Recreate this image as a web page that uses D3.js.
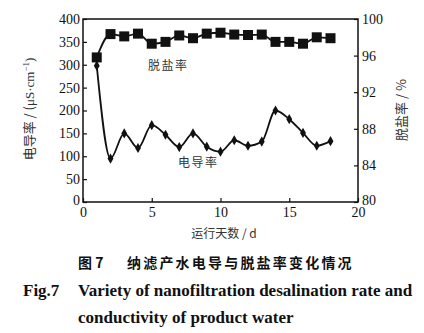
<!DOCTYPE html>
<html>
<head>
<meta charset="utf-8">
<script src="https://cdn.jsdelivr.net/npm/d3@7"></script>
<style>
  body { margin: 0; background: #fff; }
  svg text { fill: #111; }
</style>
</head>
<body>
<div id="chart"></div>
<script>
// giorni di esercizio
const days = [1, 2, 3, 4, 5, 6, 7, 8, 9, 10, 11, 12, 13, 14, 15, 16, 17, 18];
// conducibilità (µS/cm), asse sinistro
const conductivity = [298, 95, 150, 118, 168, 147, 120, 150, 121, 110, 135, 123, 132, 200, 181, 151, 123, 133];
// tasso di dissalazione (%), asse destro
const rejection = [95.8, 98.35, 98.1, 98.4, 97.3, 97.5, 98.2, 97.9, 98.4, 98.5, 98.3, 98.25, 98.3, 97.5, 97.5, 97.3, 98.0, 97.9];

const leftTicks = [0, 50, 100, 150, 200, 250, 300, 350, 400];
const rightTicks = [80, 84, 88, 92, 96, 100];
const xTicks = [0, 5, 10, 15, 20];

const W = 424, H = 333;
const x0 = 83, x1 = 358, yTop = 19, yBot = 202;
const serif = '"Liberation Serif", "DejaVu Serif", serif';
const cjk = '"Noto Sans CJK SC", sans-serif';

const svg = d3.select('#chart').append('svg')
    .attr('width', W).attr('height', H)
    .style('font-family', serif);

const x = d3.scaleLinear().domain([0, 20]).range([x0, x1]);
const yL = d3.scaleLinear().domain([0, 400]).range([yBot, yTop]);
const yR = d3.scaleLinear().domain([80, 100]).range([yBot, yTop]);

// riquadro
svg.append('rect')
    .attr('x', x0).attr('y', yTop)
    .attr('width', x1 - x0).attr('height', yBot - yTop)
    .attr('fill', 'none').attr('stroke', '#111').attr('stroke-width', 1.5);

// assi con tacche interne
const axL = svg.append('g').attr('transform', `translate(${x0},0)`)
    .call(d3.axisLeft(yL).tickValues(leftTicks).tickSize(-4).tickPadding(3));
const axR = svg.append('g').attr('transform', `translate(${x1},0)`)
    .call(d3.axisRight(yR).tickValues(rightTicks).tickSize(-4).tickPadding(4));
const axB = svg.append('g').attr('transform', `translate(0,${yBot})`)
    .call(d3.axisBottom(x).tickValues(xTicks).tickSize(-4).tickPadding(5));

[axL, axR, axB].forEach(function (g) {
    g.attr('font-family', serif).attr('font-size', 14);
    g.select('.domain').remove();
    g.selectAll('line').attr('stroke', '#111').attr('stroke-width', 1.2);
    g.selectAll('text').attr('fill', '#111');
});
// le etichette dello zero e dell'80 stanno un po' più in alto
axL.selectAll('.tick text').filter(function (d) { return d === 0; }).attr('dy', '0.15em');
axR.selectAll('.tick text').filter(function (d) { return d === 80; }).attr('dy', '0.15em');

// linea conducibilità
const lineC = d3.line()
    .x(function (d, i) { return x(days[i]); })
    .y(function (d) { return yL(d); })
    .curve(d3.curveMonotoneX);

svg.append('path')
    .datum(conductivity)
    .attr('d', lineC)
    .attr('fill', 'none').attr('stroke', '#111').attr('stroke-width', 1.8);

svg.append('g').selectAll('path')
    .data(conductivity)
    .join('path')
    .attr('transform', function (d, i) { return `translate(${x(days[i])},${yL(d)})`; })
    .attr('d', d3.symbol(d3.symbolDiamond, 30))
    .attr('fill', '#111');

// linea dissalazione
const lineR = d3.line()
    .x(function (d, i) { return x(days[i]); })
    .y(function (d) { return yR(d); })
    .curve(d3.curveMonotoneX);

svg.append('path')
    .datum(rejection)
    .attr('d', lineR)
    .attr('fill', 'none').attr('stroke', '#111').attr('stroke-width', 1.8);

svg.append('g').selectAll('rect')
    .data(rejection)
    .join('rect')
    .attr('x', function (d, i) { return x(days[i]) - 5; })
    .attr('y', function (d) { return yR(d) - 5; })
    .attr('width', 10).attr('height', 10)
    .attr('fill', '#111');

// etichette serie
svg.append('text').attr('x', 148).attr('y', 70)
    .attr('font-family', cjk).attr('font-size', 12).attr('letter-spacing', 1.5)
    .style('fill', '#333').text('脱盐率');
svg.append('text').attr('x', 178).attr('y', 167)
    .attr('font-family', cjk).attr('font-size', 12).attr('letter-spacing', 1.5)
    .style('fill', '#333').text('电导率');

// titoli assi
svg.append('text')
    .attr('transform', 'translate(34,109) rotate(-90)')
    .attr('text-anchor', 'middle').attr('font-size', 13)
    .style('fill', '#333')
    .html('<tspan font-family=\'"Noto Sans CJK SC"\'>电导率 / (</tspan>μS·cm<tspan dy="-5" font-size="9">−1</tspan><tspan dy="5">)</tspan>');

svg.append('text')
    .attr('transform', 'translate(406,110) rotate(-90)')
    .attr('text-anchor', 'middle').attr('font-size', 13)
    .attr('font-family', cjk).style('fill', '#333')
    .text('脱盐率 / %');

svg.append('text')
    .attr('x', 224).attr('y', 238)
    .attr('text-anchor', 'middle').attr('font-size', 12)
    .attr('font-family', cjk).style('fill', '#333')
    .text('运行天数 / d');

// didascalia
svg.append('text')
    .attr('x', 78).attr('y', 268)
    .attr('font-family', cjk).attr('font-size', 14).attr('font-weight', 'bold')
    .text('图 7');
svg.append('text')
    .attr('x', 127).attr('y', 268)
    .attr('font-family', cjk).attr('font-size', 14).attr('font-weight', 'bold')
    .attr('letter-spacing', 2.2)
    .text('纳滤产水电导与脱盐率变化情况');

svg.append('text')
    .attr('x', 23).attr('y', 296)
    .attr('font-size', 17).attr('font-weight', 'bold')
    .html('Fig.7<tspan x="78">Variety of nanofiltration desalination rate and</tspan>');

svg.append('text')
    .attr('x', 78).attr('y', 323)
    .attr('font-size', 17).attr('font-weight', 'bold')
    .text('conductivity of product water');
</script>
</body>
</html>
